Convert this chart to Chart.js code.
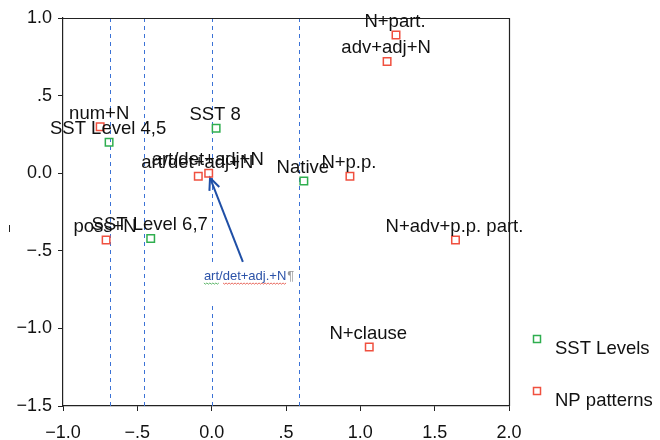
<!DOCTYPE html>
<html>
<head>
<meta charset="utf-8">
<script src="https://cdn.jsdelivr.net/npm/chart.js@4/dist/chart.umd.min.js"></script>
<style>
html,body{margin:0;padding:0;background:#fff;}
#wrap{width:660px;height:440px;}
</style>
</head>
<body>
<div id="wrap"><canvas id="c" width="660" height="440"></canvas></div>
<script>
// ---- data ----
const sstLabels = ['SST Level 4,5', 'SST 8', 'Native', 'SST Level 6,7'];
const sstX = [-0.69, 0.03, 0.62, -0.41];
const sstY = [0.20, 0.29, -0.05, -0.42];

const npLabels = ['num+N', 'art/det+adj+N', 'art/det+adj+N', 'N+part.', 'adv+adj+N', 'N+p.p.', 'N+adv+p.p. part.', 'N+clause', 'poss+N'];
const npX = [-0.75, -0.09, -0.02, 1.24, 1.18, 0.93, 1.64, 1.06, -0.71];
const npY = [0.30, -0.02, 0.00, 0.89, 0.72, -0.02, -0.43, -1.12, -0.43];

const refLinesX = [-0.686, -0.457, 0.004, 0.586];

const xTicks = [-1.0, -0.5, 0.0, 0.5, 1.0, 1.5, 2.0];
const yTicks = [-1.5, -1.0, -0.5, 0.0, 0.5, 1.0];

const seriesNames = ['SST Levels', 'NP patterns'];
const noteText = 'art/det+adj.+N';
const noteFrom = {x: 0.21, y: -0.572};
const noteTo = {x: -0.011, y: -0.03};

const GREEN = '#2fae4f';
const RED = '#f0503f';
const FONT = '"Liberation Sans", Arial, sans-serif';

function fmt(v) {
  const a = Math.abs(v);
  let s = a.toFixed(1);
  if (a > 0 && a < 1) s = s.substring(1);
  return (v < 0 ? '\u2212' : '') + s;
}

const overlay = {
  id: 'overlay',
  beforeDatasetsDraw(chart) {
    const {ctx, chartArea: a, scales: {x, y}} = chart;
    ctx.save();
    // dashed reference lines
    ctx.strokeStyle = '#3b72d6';
    ctx.lineWidth = 1;
    ctx.setLineDash([4, 4]);
    refLinesX.forEach(v => {
      const px = Math.round(x.getPixelForValue(v)) + 0.5;
      ctx.beginPath();
      ctx.moveTo(px, a.top);
      ctx.lineTo(px, a.bottom);
      ctx.stroke();
    });
    ctx.setLineDash([]);
    // frame (top & right)
    ctx.strokeStyle = '#222';
    ctx.lineWidth = 1.2;
    ctx.beginPath();
    ctx.moveTo(a.left, a.top + 0.5);
    ctx.lineTo(a.right + 0.5, a.top + 0.5);
    ctx.lineTo(a.right + 0.5, a.bottom);
    ctx.stroke();
    // small stray mark at left
    ctx.beginPath();
    ctx.lineWidth = 1;
    ctx.moveTo(9.5, 225);
    ctx.lineTo(9.5, 232);
    ctx.stroke();

    // annotation box + text
    const fx = x.getPixelForValue(noteFrom.x), fy = y.getPixelForValue(noteFrom.y);
    const tx = x.getPixelForValue(noteTo.x), ty = y.getPixelForValue(noteTo.y);
    ctx.fillStyle = '#fff';
    ctx.fillRect(fx - 43, fy, 90, 40);
    ctx.font = '13px ' + FONT;
    ctx.textAlign = 'left';
    ctx.textBaseline = 'alphabetic';
    ctx.fillStyle = '#2b52a8';
    const tX = fx - 39, tY = fy + 18;
    ctx.fillText(noteText, tX, tY);
    const w = ctx.measureText(noteText).width;
    ctx.fillStyle = '#999';
    ctx.fillText('\u00b6', tX + w + 1, tY);
    // squiggles
    const artW = ctx.measureText('art').width;
    function squig(x0, x1, col) {
      ctx.strokeStyle = col; ctx.lineWidth = 0.8;
      ctx.beginPath();
      for (let xx = x0, i = 0; xx <= x1; xx += 1.5, i++) {
        const yy = tY + 3 + (i % 2 ? 1.2 : 0);
        if (i === 0) ctx.moveTo(xx, yy); else ctx.lineTo(xx, yy);
      }
      ctx.stroke();
    }
    squig(tX, tX + artW, '#3aa648');
    squig(tX + artW + 4, tX + w, '#e2483a');

    // arrow
    ctx.strokeStyle = '#1f4fa6';
    ctx.lineWidth = 2;
    ctx.beginPath();
    ctx.moveTo(fx, fy);
    ctx.lineTo(tx, ty);
    ctx.stroke();
    const ang = Math.atan2(ty - fy, tx - fx);
    const L = 13, sp = 0.42;
    ctx.beginPath();
    ctx.moveTo(tx - L * Math.cos(ang - sp), ty - L * Math.sin(ang - sp));
    ctx.lineTo(tx, ty);
    ctx.lineTo(tx - L * Math.cos(ang + sp), ty - L * Math.sin(ang + sp));
    ctx.stroke();
    ctx.restore();
  },
  afterDatasetsDraw(chart) {
    const {ctx, chartArea: a} = chart;
    ctx.save();
    ctx.font = '18.5px ' + FONT;
    ctx.fillStyle = '#111';
    ctx.textAlign = 'center';
    ctx.textBaseline = 'alphabetic';
    chart.data.datasets.forEach((ds, di) => {
      const meta = chart.getDatasetMeta(di);
      meta.data.forEach((pt, i) => {
        ctx.fillText(ds.names[i], pt.x - 1, pt.y - 8);
      });
    });
    // legend
    const lx = a.right + 28;
    const items = [{c: GREEN, t: seriesNames[0], y: a.top + 321}, {c: RED, t: seriesNames[1], y: a.top + 373}];
    ctx.textAlign = 'left';
    ctx.textBaseline = 'middle';
    items.forEach(it => {
      ctx.strokeStyle = it.c;
      ctx.lineWidth = 1.5;
      ctx.strokeRect(lx - 3.5, it.y - 3.5, 7, 7);
      ctx.fillStyle = '#111';
      ctx.fillText(it.t, lx + 18, it.y + 10);
    });
    ctx.restore();
  }
};

new Chart(document.getElementById('c'), {
  type: 'scatter',
  data: {
    datasets: [
      {
        label: seriesNames[0],
        names: sstLabels,
        data: sstX.map((v, i) => ({x: v, y: sstY[i]})),
        pointStyle: 'rect',
        pointRadius: 5.3,
        pointHoverRadius: 5.3,
        borderColor: GREEN,
        backgroundColor: 'rgba(0,0,0,0)',
        borderWidth: 1.5
      },
      {
        label: seriesNames[1],
        names: npLabels,
        data: npX.map((v, i) => ({x: v, y: npY[i]})),
        pointStyle: 'rect',
        pointRadius: 5.3,
        pointHoverRadius: 5.3,
        borderColor: RED,
        backgroundColor: 'rgba(0,0,0,0)',
        borderWidth: 1.5
      }
    ]
  },
  options: {
    responsive: false,
    animation: false,
    clip: false,
    layout: {padding: {left: 0, right: 151, top: 18, bottom: 0}},
    plugins: {legend: {display: false}, tooltip: {enabled: false}},
    scales: {
      x: {
        type: 'linear', min: -1, max: 2,
        afterBuildTicks: s => { s.ticks = xTicks.map(v => ({value: v})); },
        afterFit: s => { s.height = 34; },
        grid: {display: true, drawOnChartArea: false, drawTicks: true, tickLength: 5, color: '#222'},
        border: {display: true, color: '#222', width: 1.2},
        ticks: {color: '#111', font: {size: 18, family: FONT}, padding: 11, maxRotation: 0, callback: v => fmt(v)}
      },
      y: {
        type: 'linear', min: -1.5, max: 1,
        afterBuildTicks: s => { s.ticks = yTicks.map(v => ({value: v})); },
        afterFit: s => { s.width = 63; },
        grid: {display: true, drawOnChartArea: false, drawTicks: true, tickLength: 5, color: '#222'},
        border: {display: true, color: '#222', width: 1.2},
        ticks: {color: '#111', font: {size: 18, family: FONT}, padding: 6, callback: v => fmt(v)}
      }
    }
  },
  plugins: [overlay]
});
</script>
</body>
</html>
